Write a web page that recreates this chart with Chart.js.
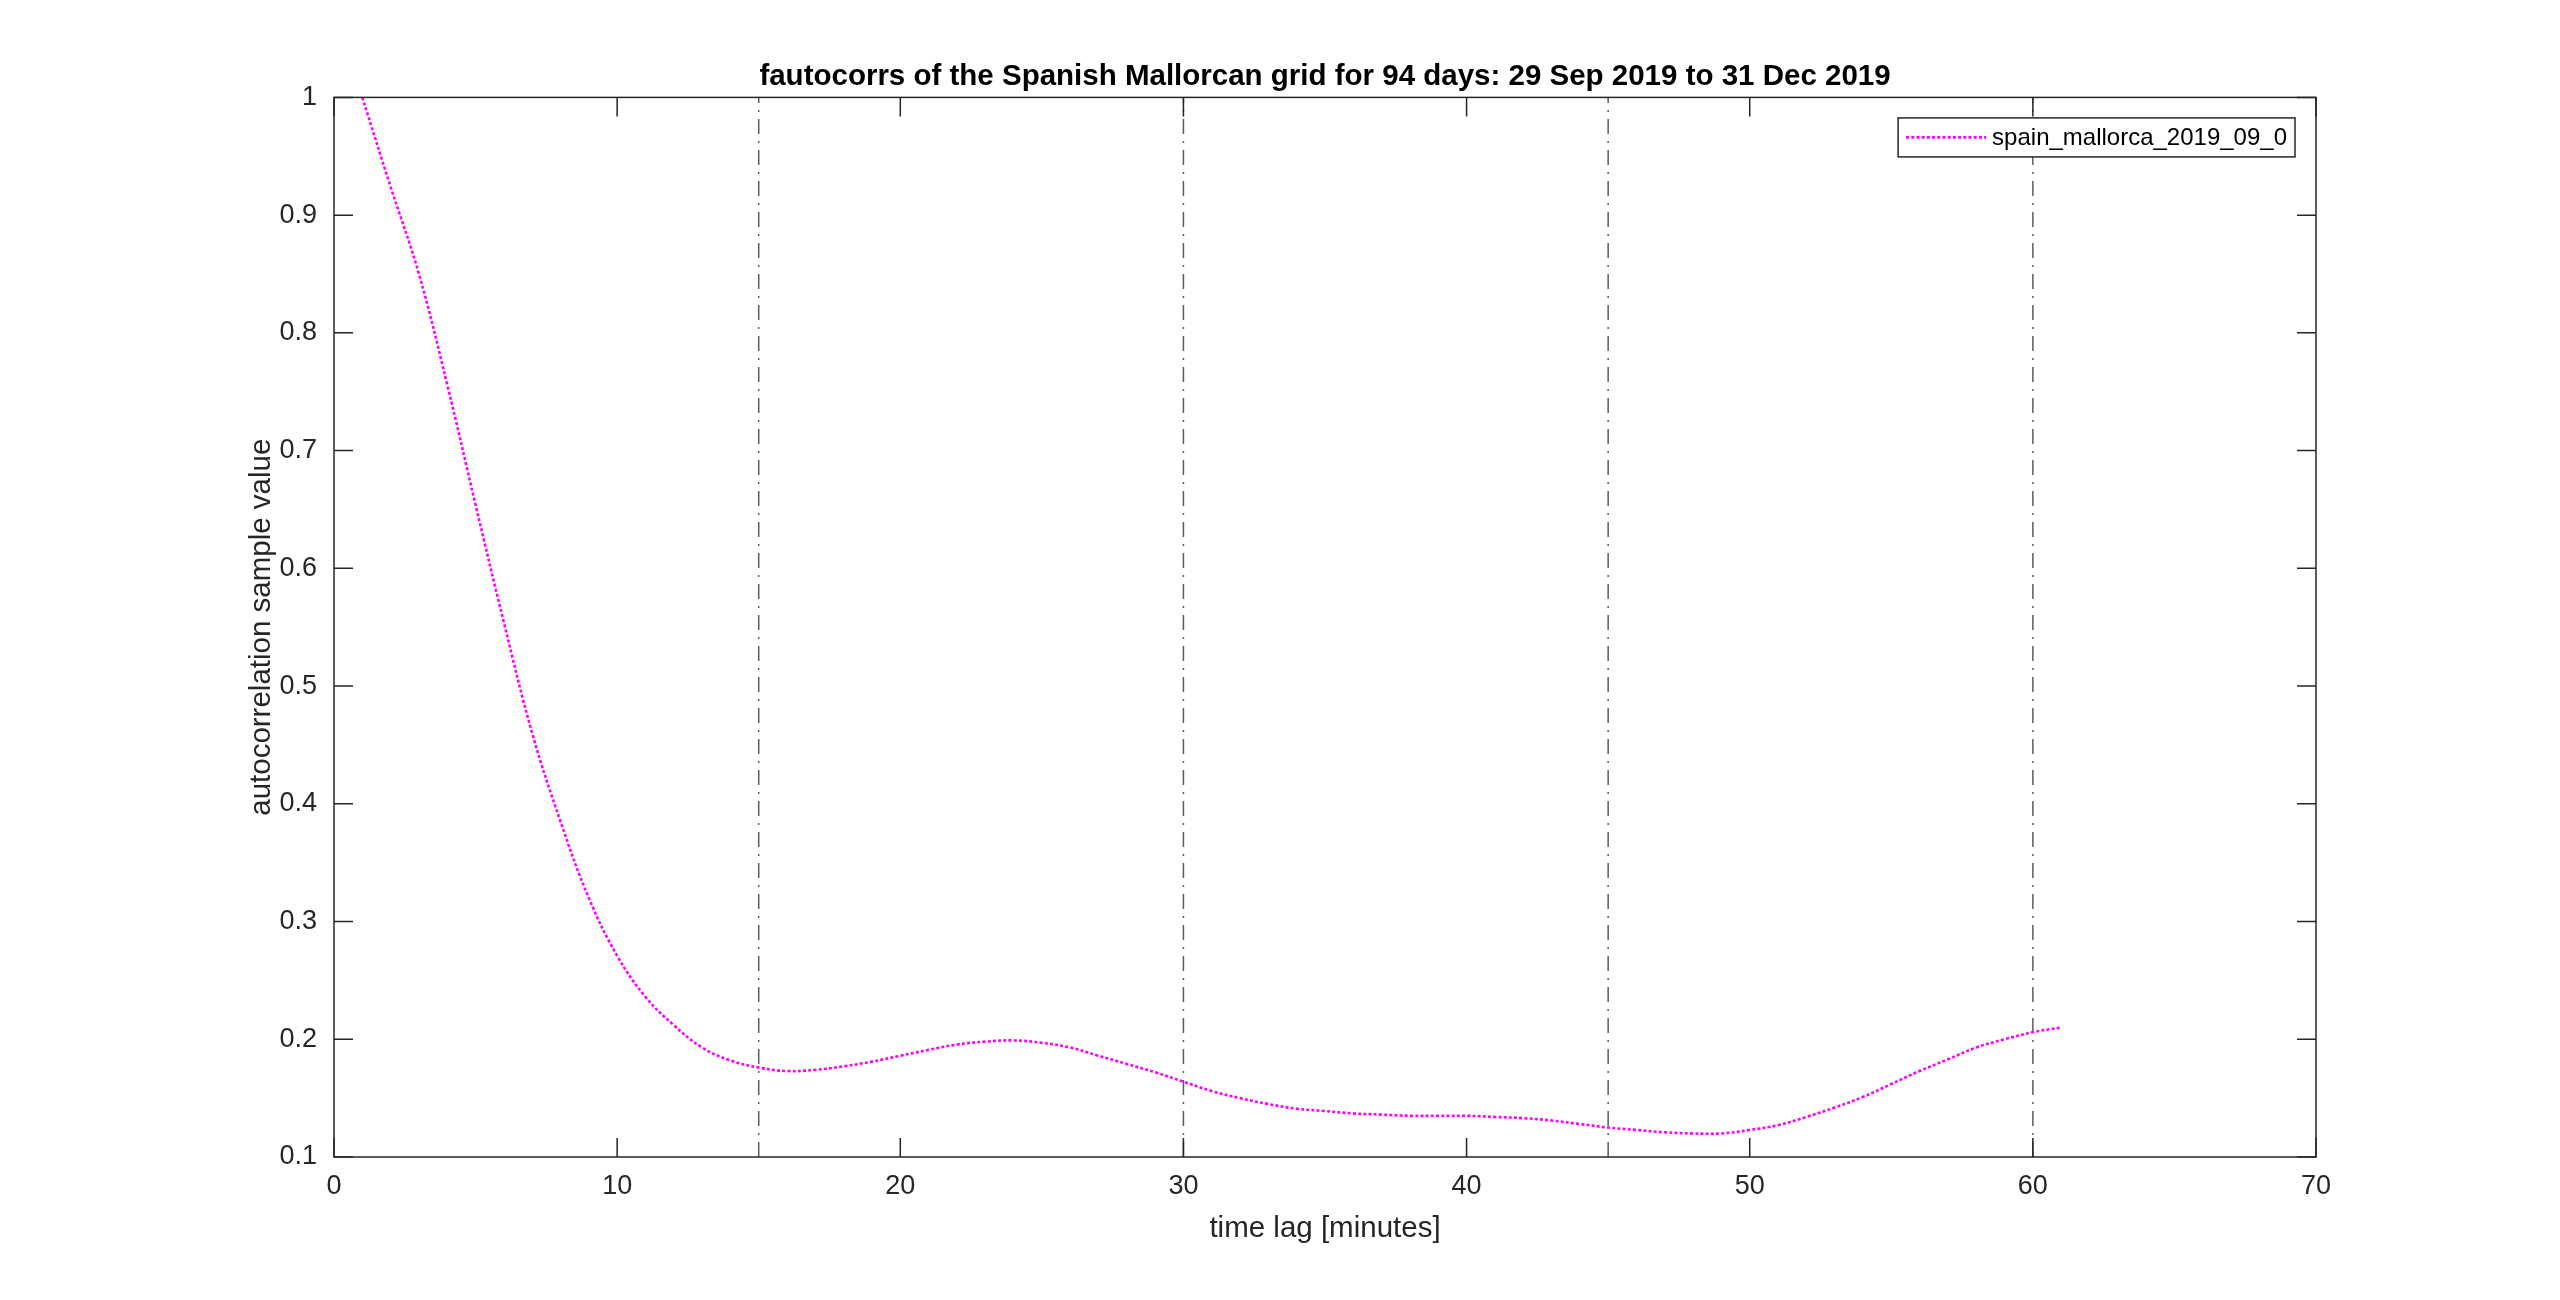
<!DOCTYPE html>
<html>
<head>
<meta charset="utf-8">
<title>fautocorrs - Spanish Mallorcan grid</title>
<script src="https://cdn.jsdelivr.net/npm/chart.js@4.4.1/dist/chart.umd.min.js"></script>
<style>
  html, body { margin: 0; padding: 0; background: #fff; }
  #wrap { width: 2560px; height: 1300px; }
</style>
</head>
<body>
<div id="wrap"><canvas id="acf" width="2560" height="1300"></canvas></div>
<script>
// time lag in minutes and the sample autocorrelation
const lags = [1, 2, 3, 4, 5, 6, 7, 8, 9, 10,
  11, 12, 13, 14, 15, 16, 17, 18, 19, 20,
  21, 22, 23, 24, 25, 26, 27, 28, 29, 30,
  31, 32, 33, 34, 35, 36, 37, 38, 39, 40,
  41, 42, 43, 44, 45, 46, 47, 48, 49, 50,
  51, 52, 53, 54, 55, 56, 57, 58, 59, 60, 61];
const acfValues = [1.000, 0.924, 0.850, 0.756, 0.654, 0.554, 0.460, 0.385, 0.320, 0.271,
  0.236, 0.212, 0.193, 0.182, 0.176, 0.173, 0.174, 0.177, 0.181, 0.186,
  0.191, 0.1955, 0.198, 0.199, 0.197, 0.193, 0.186, 0.179, 0.172, 0.164,
  0.156, 0.150, 0.145, 0.141, 0.139, 0.137, 0.136, 0.135, 0.135, 0.135,
  0.134, 0.133, 0.131, 0.128, 0.125, 0.123, 0.121, 0.120, 0.120, 0.123,
  0.127, 0.134, 0.142, 0.151, 0.162, 0.173, 0.183, 0.193, 0.200, 0.206, 0.210];
const seriesName = "spain_mallorca_2019_09_0";

// dash-dot markers every 15 minutes
const markerLags = [15, 30, 45, 60];

const xTicks = [0, 10, 20, 30, 40, 50, 60, 70];
const xTickLabels = ["0", "10", "20", "30", "40", "50", "60", "70"];
const yTicks = [0.1, 0.2, 0.3, 0.4, 0.5, 0.6, 0.7, 0.8, 0.9, 1];
const yTickLabels = ["0.1", "0.2", "0.3", "0.4", "0.5", "0.6", "0.7", "0.8", "0.9", "1"];

const FONT = "'Liberation Sans', Arial, Helvetica, sans-serif";
const AXIS_COLOR = "#262626";
Chart.defaults.font.family = FONT;

// matlab style box: frame on all four sides, ticks pointing inwards
const axesBox = {
  id: "axesBox",
  afterDatasetsDraw(chart) {
    const { ctx, chartArea: a, scales: { x, y } } = chart;
    const tl = 19;
    ctx.save();
    ctx.strokeStyle = AXIS_COLOR;
    ctx.lineWidth = 1.5;
    ctx.beginPath();
    xTicks.forEach(v => {
      const px = x.getPixelForValue(v);
      ctx.moveTo(px, a.bottom); ctx.lineTo(px, a.bottom - tl);
      ctx.moveTo(px, a.top); ctx.lineTo(px, a.top + tl);
    });
    yTicks.forEach(v => {
      const py = y.getPixelForValue(v);
      ctx.moveTo(a.left, py); ctx.lineTo(a.left + tl, py);
      ctx.moveTo(a.right, py); ctx.lineTo(a.right - tl, py);
    });
    ctx.stroke();
    ctx.strokeRect(a.left, a.top, a.right - a.left, a.bottom - a.top);
    ctx.restore();
  }
};

// legend with a frame, top right inside the axes
const boxLegend = {
  id: "boxLegend",
  afterDraw(chart) {
    const { ctx, chartArea: a } = chart;
    const ds = chart.data.datasets[0];
    ctx.save();
    ctx.font = "24px " + FONT;
    const tw = ctx.measureText(ds.label).width;
    const w = 8 + 80 + 6 + tw + 8, h = 39;
    const left = a.right - 21 - w, top = a.top + 20.5;
    ctx.fillStyle = "#fff";
    ctx.fillRect(left, top, w, h);
    ctx.strokeStyle = AXIS_COLOR;
    ctx.lineWidth = 1.5;
    ctx.strokeRect(left, top, w, h);
    ctx.strokeStyle = ds.borderColor;
    ctx.lineWidth = ds.borderWidth;
    ctx.setLineDash(ds.borderDash);
    ctx.beginPath();
    ctx.moveTo(left + 8, top + h / 2);
    ctx.lineTo(left + 88, top + h / 2);
    ctx.stroke();
    ctx.setLineDash([]);
    ctx.fillStyle = "#000";
    ctx.textBaseline = "middle";
    ctx.fillText(ds.label, left + 94, top + h / 2 + 1);
    ctx.restore();
  }
};

const datasets = [{
  label: seriesName,
  data: lags.map((l, i) => ({ x: l, y: acfValues[i] })),
  borderColor: "#ff00ff",
  borderWidth: 2.6,
  borderDash: [3, 2.2],
  pointRadius: 0,
  tension: 0.4,
  fill: false
}];
markerLags.forEach(l => {
  datasets.push({
    label: "",
    data: [{ x: l, y: yTicks[0] }, { x: l, y: yTicks[yTicks.length - 1] }],
    borderColor: "rgba(38,38,38,0.75)",
    borderWidth: 1.5,
    borderDash: [15, 7, 2, 7],
    pointRadius: 0,
    fill: false
  });
});

new Chart(document.getElementById("acf"), {
  type: "line",
  data: { datasets: datasets },
  plugins: [axesBox, boxLegend],
  options: {
    responsive: false,
    devicePixelRatio: 1,
    animation: false,
    layout: { padding: { left: 0, right: 244, top: 0, bottom: 0 } },
    plugins: {
      legend: { display: false },
      tooltip: { enabled: false },
      title: {
        display: true,
        fullSize: false,
        text: "fautocorrs of the Spanish Mallorcan grid for 94 days: 29 Sep 2019 to 31 Dec 2019",
        color: "#000",
        font: { size: 29.5, weight: "bold" },
        padding: { top: 59, bottom: 3 }
      }
    },
    scales: {
      x: {
        type: "linear",
        min: 0,
        max: 70,
        grid: { display: false, drawTicks: false },
        border: { display: false },
        afterBuildTicks: s => { s.ticks = xTicks.map(v => ({ value: v })); },
        ticks: {
          callback: (v, i) => xTickLabels[i],
          padding: 13,
          color: AXIS_COLOR,
          font: { size: 27 },
          maxRotation: 0,
          autoSkip: false
        },
        title: {
          display: true,
          text: "time lag [minutes]",
          color: AXIS_COLOR,
          font: { size: 29.5 },
          padding: { top: 0, bottom: 53 }
        },
        afterFit: s => { s.height = 143; }
      },
      y: {
        type: "linear",
        min: 0.1,
        max: 1,
        grid: { display: false, drawTicks: false },
        border: { display: false },
        afterBuildTicks: s => { s.ticks = yTicks.map(v => ({ value: v })); },
        ticks: {
          callback: (v, i) => yTickLabels[i],
          padding: 17,
          color: AXIS_COLOR,
          font: { size: 27 },
          autoSkip: false
        },
        title: {
          display: true,
          text: "autocorrelation sample value",
          color: AXIS_COLOR,
          font: { size: 29.5 },
          padding: { top: 244, bottom: 0 }
        },
        afterFit: s => { s.width = 334; }
      }
    }
  }
});
</script>
</body>
</html>
